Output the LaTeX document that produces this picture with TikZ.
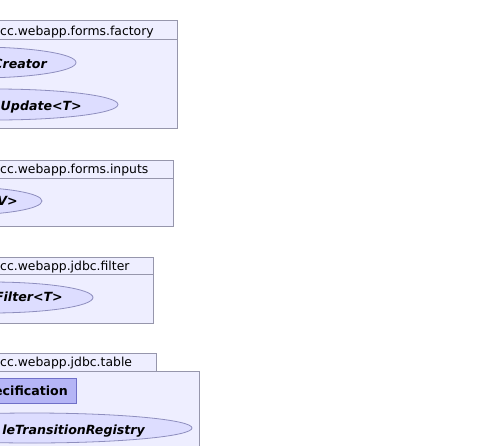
\documentclass[tikz,border=0pt]{standalone}
\usepackage{fontspec}
\setmainfont{DejaVu Sans}
\usepackage{tikz}
\usetikzlibrary{shapes.geometric, % ellipses
           positioning}
% couleurs des paquets et des classes
\definecolor{fondpaquet}{RGB}{238,238,255}
\definecolor{traitpaquet}{RGB}{150,150,172}
\definecolor{fondcas}{RGB}{221,221,255}
\definecolor{traitcas}{RGB}{142,142,190}
\definecolor{fondclasse}{RGB}{181,181,246}
\definecolor{traitclasse}{RGB}{112,112,200}

\begin{document}
\begin{tikzpicture}[x=1pt,y=-1pt,
  paquet/.style={draw=traitpaquet,fill=fondpaquet,line width=0.8pt},
  cas/.style={ellipse,draw=traitcas,fill=fondcas,line width=0.8pt,inner sep=0pt},
  classe/.style={draw=traitclasse,fill=fondclasse,line width=0.8pt},
  titre/.style={anchor=base west,inner sep=0pt,font=\fontsize{12.4}{14}\selectfont},
  nom/.style={anchor=base east,inner sep=0pt,font=\fontsize{12.6}{14}\selectfont\bfseries\itshape}]
\useasboundingbox (0,0) rectangle (482,445);
\clip (0,0) rectangle (482,445);
\draw[paquet](-40,39)rectangle(177,128);
\draw[paquet](-40,20.5)rectangle(177,39);
\node[titre](factory)at(0,35){cc.webapp.forms.factory};
\node[cas,minimum width=198pt,minimum height=31pt](creator)at(-23,62.5){};
\node[nom]at(47,68){Creator};
\node[cas,minimum width=246pt,minimum height=31pt](update)at(-5,104.5){};
\node[nom]at(82,110){Update<T>};
\draw[paquet](-40,178)rectangle(173,226);
\draw[paquet](-40,160)rectangle(173,178);
\node[titre](inputs)at(0,173.5){cc.webapp.forms.inputs};
\node[cas,minimum width=164pt,minimum height=28pt](input)at(-40,201){};
\node[nom]at(18,205){V>};
\draw[paquet](-40,274)rectangle(153,323);
\draw[paquet](-40,257)rectangle(153,274);
\node[titre](filter)at(0,270){cc.webapp.jdbc.filter};
\node[cas,minimum width=204pt,minimum height=31pt](filtre)at(-9,297.5){};
\node[nom]at(63,301.7){Filter<T>};
\draw[paquet](-40,371)rectangle(199,470);
\draw[paquet](-40,353)rectangle(156,371);
\node[titre](table)at(0,366.5){cc.webapp.jdbc.table};
\draw[classe](-40,378)rectangle(76,403);
\node[nom,font=\fontsize{12.6}{14}\selectfont\bfseries](spec)at(68,395){ecification};
\node[cas,minimum width=320pt,minimum height=30pt](registry)at(32,428){};
\node[nom]at(145,434){leTransitionRegistry};
\end{tikzpicture}
\end{document}
